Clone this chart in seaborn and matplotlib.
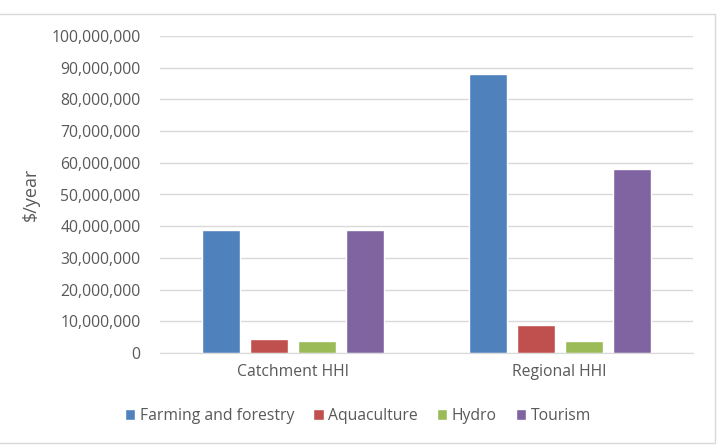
import numpy as np
import pandas as pd
import matplotlib
matplotlib.use('agg')
import matplotlib.pyplot as plt
import seaborn as sns
from matplotlib.patches import Rectangle
from matplotlib.ticker import FuncFormatter, MultipleLocator

groups = ['Catchment HHI', 'Regional HHI']
sectors = ['Farming and forestry', 'Aquaculture', 'Hydro', 'Tourism']
farming = [38900000, 88000000]
aquaculture = [4500000, 8800000]
hydro = [3900000, 3900000]
tourism = [38700000, 58100000]
colors = ['#4F81BD', '#C0504D', '#9BBB59', '#8064A2']

df = pd.DataFrame({
    'group': groups * 4,
    'sector': [s for s in sectors for _ in groups],
    'value': farming + aquaculture + hydro + tourism,
})

sns.set_style('white')
plt.rcParams['font.family'] = ['Open Sans', 'DejaVu Sans']
txt = '#595959'

fig = plt.figure(figsize=(7.25, 4.48), dpi=100)
ax = fig.add_axes([160 / 725, 1 - 353 / 448, 533 / 725, 317 / 448])

sns.barplot(data=df, x='group', y='value', hue='sector', order=groups, hue_order=sectors,
            palette=colors, width=0.72, gap=0.21, saturation=1, ax=ax, legend=True)

ax.set_ylim(0, 100000000)
ax.yaxis.set_major_locator(MultipleLocator(10000000))
ax.yaxis.set_major_formatter(FuncFormatter(lambda v, p: f'{int(v):,}'))
ax.grid(axis='y', color='#D9D9D9', linewidth=1)
ax.set_axisbelow(True)
for s in ['top', 'right', 'left']:
    ax.spines[s].set_visible(False)
ax.spines['bottom'].set_color('#D9D9D9')
ax.tick_params(axis='both', length=0, labelsize=11.3, colors=txt, pad=14)
ax.tick_params(axis='x', pad=8)
ax.set_xlabel('')
ax.set_ylabel('$/year', fontsize=13, color=txt, labelpad=8)

ax.legend(loc='center', bbox_to_anchor=(358 / 725, 1 - 416 / 448), bbox_transform=fig.transFigure,
          ncol=4, frameon=False, fontsize=11.3, handlelength=0.65, handleheight=0.65,
          handletextpad=0.3, columnspacing=1.2, labelcolor=txt)

fig.patches.append(Rectangle((-0.01, 5 / 448), 715 / 725 + 0.01, 429 / 448, transform=fig.transFigure,
                             fill=False, edgecolor='#D9D9D9', linewidth=1))

fig.savefig('out.png', dpi=100)
